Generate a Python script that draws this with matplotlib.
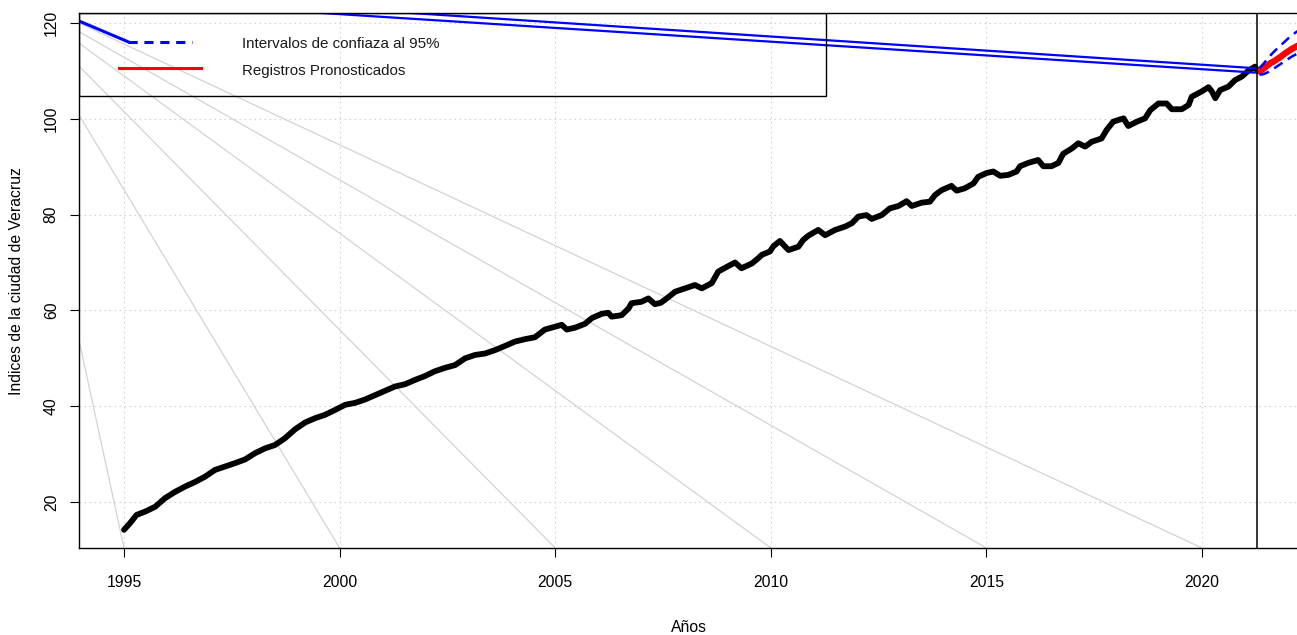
import matplotlib

matplotlib.use("Agg")
import matplotlib.pyplot as plt
from matplotlib.patches import Rectangle

plt.rcParams["font.family"] = ["Liberation Sans", "DejaVu Sans"]

anios = [
    1995.00, 1995.14, 1995.29, 1995.49, 1995.72, 1995.95, 1996.18, 1996.41, 1996.65, 1996.88,
    1997.11, 1997.34, 1997.57, 1997.81, 1998.04, 1998.27, 1998.50, 1998.73, 1998.97, 1999.20,
    1999.43, 1999.66, 1999.89, 2000.13, 2000.36, 2000.59, 2000.82, 2001.05, 2001.28, 2001.52,
    2001.75, 2001.98, 2002.21, 2002.44, 2002.68, 2002.91, 2003.14, 2003.37, 2003.60, 2003.84,
    2004.07, 2004.30, 2004.53, 2004.76, 2005.00, 2005.15, 2005.27, 2005.46, 2005.69, 2005.85,
    2006.08, 2006.23, 2006.31, 2006.54, 2006.70, 2006.77, 2007.00, 2007.16, 2007.31, 2007.45,
    2007.60, 2007.78, 2008.01, 2008.24, 2008.40, 2008.63, 2008.78, 2008.94, 2009.17, 2009.32,
    2009.56, 2009.71, 2009.79, 2009.98, 2010.06, 2010.21, 2010.41, 2010.64, 2010.75, 2010.87,
    2011.10, 2011.26, 2011.49, 2011.72, 2011.88, 2012.03, 2012.22, 2012.34, 2012.57, 2012.76,
    2012.96, 2013.15, 2013.27, 2013.50, 2013.69, 2013.81, 2013.96, 2014.19, 2014.31, 2014.50,
    2014.70, 2014.81, 2015.01, 2015.16, 2015.32, 2015.51, 2015.70, 2015.78, 2015.97, 2016.20,
    2016.32, 2016.51, 2016.67, 2016.78, 2016.98, 2017.13, 2017.29, 2017.44, 2017.67, 2017.79,
    2017.94, 2018.18, 2018.29, 2018.49, 2018.68, 2018.80, 2018.99, 2019.18, 2019.30, 2019.53,
    2019.69, 2019.76, 2019.99, 2020.15, 2020.23, 2020.31, 2020.42, 2020.61, 2020.77, 2020.92,
    2021.07, 2021.23, 2021.27,
]
indice = [
    14.2, 15.6, 17.3, 18.0, 19.0, 20.8, 22.1, 23.2, 24.2, 25.3,
    26.7, 27.4, 28.1, 28.9, 30.2, 31.2, 31.9, 33.3, 35.2, 36.6,
    37.5, 38.2, 39.2, 40.3, 40.7, 41.4, 42.3, 43.2, 44.1, 44.6,
    45.5, 46.3, 47.3, 48.0, 48.6, 50.0, 50.7, 51.0, 51.7, 52.6,
    53.5, 54.0, 54.4, 56.0, 56.6, 57.0, 56.0, 56.4, 57.2, 58.4,
    59.3, 59.5, 58.7, 59.0, 60.4, 61.5, 61.8, 62.5, 61.3, 61.6,
    62.6, 63.9, 64.6, 65.3, 64.6, 65.7, 68.1, 68.9, 70.0, 68.8,
    69.8, 70.9, 71.6, 72.3, 73.4, 74.5, 72.6, 73.3, 74.7, 75.6,
    76.8, 75.7, 76.8, 77.5, 78.2, 79.6, 79.9, 79.1, 79.9, 81.3,
    81.8, 82.8, 81.8, 82.5, 82.7, 84.1, 85.1, 86.0, 85.0, 85.5,
    86.5, 87.9, 88.7, 89.0, 88.1, 88.3, 89.0, 90.1, 90.8, 91.4,
    90.1, 90.1, 90.8, 92.7, 93.8, 94.9, 94.2, 95.2, 95.9, 97.7,
    99.4, 100.1, 98.5, 99.4, 100.1, 101.8, 103.2, 103.2, 102.0, 102.0,
    102.9, 104.6, 105.7, 106.6, 105.7, 104.3, 106.0, 106.7, 108.1, 108.8,
    110.0, 110.9, 110.2,
]

# pronostico mensual e intervalos al 95%
anios_pron = [2021.333, 2021.417, 2021.5, 2021.583, 2021.667, 2021.75,
              2021.833, 2021.917, 2022.0, 2022.083, 2022.167, 2022.25]
pronostico = [109.9, 110.4, 111.0, 111.6, 112.0, 112.5, 113.0, 113.6, 114.1, 114.6, 115.0, 115.4]
lim_sup = [110.6, 111.4, 112.3, 113.2, 114.0, 114.7, 115.4, 116.1, 116.8, 117.4, 118.0, 118.5]
lim_inf = [109.2, 109.3, 109.6, 110.0, 110.5, 111.0, 111.5, 112.0, 112.5, 113.0, 113.4, 113.8]

# lineas azules largas que llegan al inicio del pronostico
azul_x = [1994.0, 2021.28]
azul_sup_y = [126.6, 110.54]
azul_inf_y = [125.3, 109.62]
tramo_x = [1993.96, 1995.09]
tramo_y = [120.4, 116.1]

# lineas grises (inicio en el borde izquierdo, fin en el borde inferior)
gris_inicio_y = [53.8, 100.8, 111.0, 115.8, 118.2, 120.0]
gris_fin_x = [1995, 2000, 2005, 2010, 2015, 2020]

corte = 2021.28
x_ticks = [1995, 2000, 2005, 2010, 2015, 2020]
y_ticks = [20, 40, 60, 80, 100, 120]
XMIN, XMAX = 1993.956, 2022.203
YMIN, YMAX = 10.4, 122.09

W, H = 1297, 635
fig = plt.figure(figsize=(W / 100, H / 100), dpi=100)
ax = fig.add_axes([79 / W, (H - 548) / H, (W - 79) / W, (548 - 13) / H])
ax.set_xlim(XMIN, XMAX)
ax.set_ylim(YMIN, YMAX)

grid_kw = dict(color="#d3d3d3", lw=0.8, ls=(0, (1.5, 3)), zorder=0)
for xt in x_ticks:
    ax.axvline(xt, **grid_kw)
for yt in y_ticks:
    ax.axhline(yt, **grid_kw)

for y0, x1 in zip(gris_inicio_y, gris_fin_x):
    ax.plot([XMIN, x1], [y0, YMIN], color="#d3d3d3", lw=0.9, zorder=1)

ax.plot(anios, indice, color="black", lw=4.2, solid_capstyle="round",
        solid_joinstyle="round", zorder=3)

ax.plot(azul_x, azul_sup_y, color="blue", lw=1.6, zorder=4)
ax.plot(azul_x, azul_inf_y, color="blue", lw=1.6, zorder=4)
ax.plot(tramo_x, tramo_y, color="blue", lw=2.2, zorder=4)

ax.plot(anios_pron, pronostico, color="red", lw=4.6, solid_capstyle="round", zorder=5)
ax.plot(anios_pron, lim_sup, color="blue", lw=1.8, ls=(0, (4, 2.5)), zorder=5)
ax.plot(anios_pron, lim_inf, color="blue", lw=1.8, ls=(0, (4, 2.5)), zorder=5)

ax.axvline(corte, color="black", lw=1.1, zorder=6)

# leyenda dibujada a mano (caja sin relleno, como en R)
ax.add_patch(Rectangle((0, 0.8454), 0.6133, 0.1546, transform=ax.transAxes,
                       fill=False, ec="black", lw=1.0, zorder=7))
ax.plot([0.0402, 0.0928], [0.9464, 0.9464], transform=ax.transAxes, color="blue",
        lw=2.2, ls=(0, (3, 2.2)), zorder=7)
ax.plot([0.0328, 0.1002], [0.8966, 0.8966], transform=ax.transAxes, color="red",
        lw=2.2, zorder=7)
ax.text(0.1338, 0.942, "Intervalos de confiaza al 95%", transform=ax.transAxes,
        fontsize=10.9, va="center", ha="left", color="#1a1a1a")
ax.text(0.1338, 0.8916, "Registros Pronosticados", transform=ax.transAxes,
        fontsize=10.9, va="center", ha="left", color="#1a1a1a")

ax.spines["right"].set_visible(False)
for s in ("left", "bottom", "top"):
    ax.spines[s].set_linewidth(1.0)

ax.set_xticks(x_ticks)
ax.set_yticks(y_ticks)
ax.tick_params(axis="both", length=6.5, width=0.8, labelsize=11.3, colors="black")
ax.tick_params(axis="x", pad=13)
ax.tick_params(axis="y", pad=8)
for lab in ax.get_yticklabels():
    lab.set_rotation(90)
    lab.set_va("center")

fig.text(689 / W, 1 - 627 / H, "Años", ha="center", va="center", fontsize=11.3)
fig.text(17 / W, 1 - 281 / H, "Indices de la ciudad de Veracruz", ha="center",
         va="center", rotation=90, fontsize=11.3)

fig.savefig("out.png", dpi=100)
